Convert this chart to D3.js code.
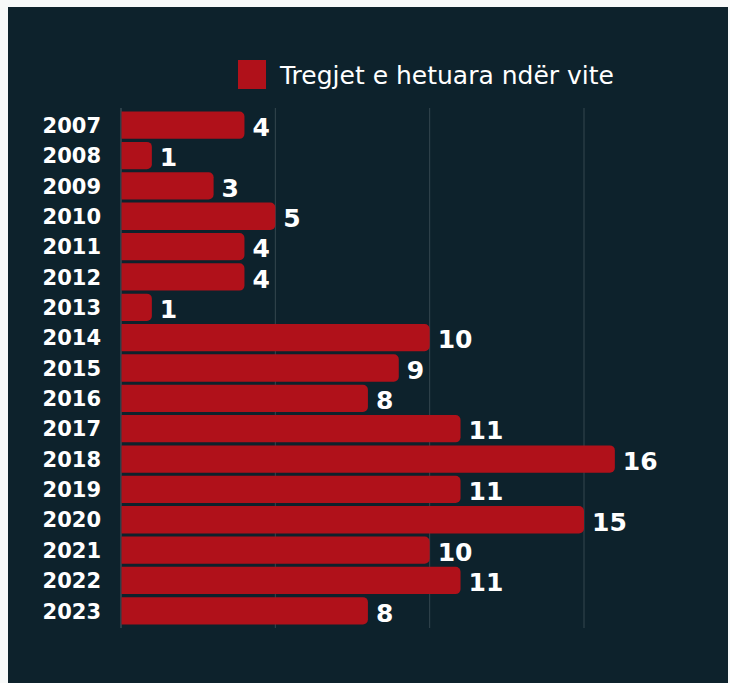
<!DOCTYPE html>
<html>
<head>
<meta charset="utf-8">
<script src="https://cdn.jsdelivr.net/npm/d3@7"></script>
<style>
  body { margin: 0; background: #f7f9f9; }
  svg { display: block; font-family: "DejaVu Sans", sans-serif; }
</style>
</head>
<body>
<div id="chart-area"></div>
<script>
// data
const years = ['2007', '2008', '2009', '2010', '2011', '2012', '2013', '2014', '2015',
  '2016', '2017', '2018', '2019', '2020', '2021', '2022', '2023']
const counts = [4, 1, 3, 5, 4, 4, 1, 10, 9, 8, 11, 16, 11, 15, 10, 11, 8]
const gridTicks = [5, 10, 15]
const legendLabel = 'Tregjet e hetuara ndër vite'

const W = 730, H = 683
const BG = '#0d222c'
const RED = '#b0111a'

const svg = d3.select('#chart-area').append('svg')
  .attr('width', W)
  .attr('height', H)

// panel
svg.append('rect')
  .attr('x', 8).attr('y', 7)
  .attr('width', 720).attr('height', H - 7)
  .attr('fill', BG)

const x = d3.scaleLinear()
  .domain([0, 15])
  .range([121, 584])

const y = d3.scaleBand()
  .domain(years)
  .range([108.5, 627.5])
  .padding(0.1)

// gridlines
svg.append('g')
  .selectAll('line')
  .data(gridTicks)
  .enter().append('line')
    .attr('x1', d => x(d)).attr('x2', d => x(d))
    .attr('y1', 108).attr('y2', 628)
    .attr('stroke', '#34474f')
    .attr('stroke-width', 1)

// zero line
svg.append('line')
  .attr('x1', x(0)).attr('x2', x(0))
  .attr('y1', 108).attr('y2', 628)
  .attr('stroke', '#4a5c64')
  .attr('stroke-width', 1)

// bars, rounded on the right end only
const r = 5
function barPath(i) {
  const x0 = x(0) + 0.5, x1 = x(counts[i])
  const y0 = y(years[i]), h = y.bandwidth()
  return `M${x0},${y0} H${x1 - r} A${r},${r} 0 0 1 ${x1},${y0 + r}
    V${y0 + h - r} A${r},${r} 0 0 1 ${x1 - r},${y0 + h} H${x0} Z`
}

svg.append('g')
  .selectAll('path')
  .data(years)
  .enter().append('path')
    .attr('d', (d, i) => barPath(i))
    .attr('fill', RED)

// value labels
svg.append('g')
  .selectAll('text')
  .data(years)
  .enter().append('text')
    .attr('x', (d, i) => x(counts[i]) + 8)
    .attr('y', d => y(d) + y.bandwidth() / 2 + 2)
    .attr('dy', '0.35em')
    .attr('fill', '#ffffff')
    .attr('font-size', '25px')
    .attr('font-weight', 700)
    .text((d, i) => counts[i])

// year labels
const yAxis = d3.axisLeft(y).tickSize(0).tickPadding(0)
svg.append('g')
  .attr('transform', 'translate(101,1)')
  .call(yAxis)
  .call(g => g.select('.domain').remove())
  .selectAll('text')
    .attr('fill', '#ffffff')
    .attr('font-size', '21px')
    .attr('font-weight', 700)
    .attr('font-family', '"DejaVu Sans", sans-serif')

// legend
svg.append('rect')
  .attr('x', 238).attr('y', 60)
  .attr('width', 28).attr('height', 29)
  .attr('fill', RED)

svg.append('text')
  .attr('x', 280).attr('y', 75)
  .attr('dy', '0.35em')
  .attr('fill', '#ffffff')
  .attr('font-size', '25px')
  .text(legendLabel)
</script>
</body>
</html>
